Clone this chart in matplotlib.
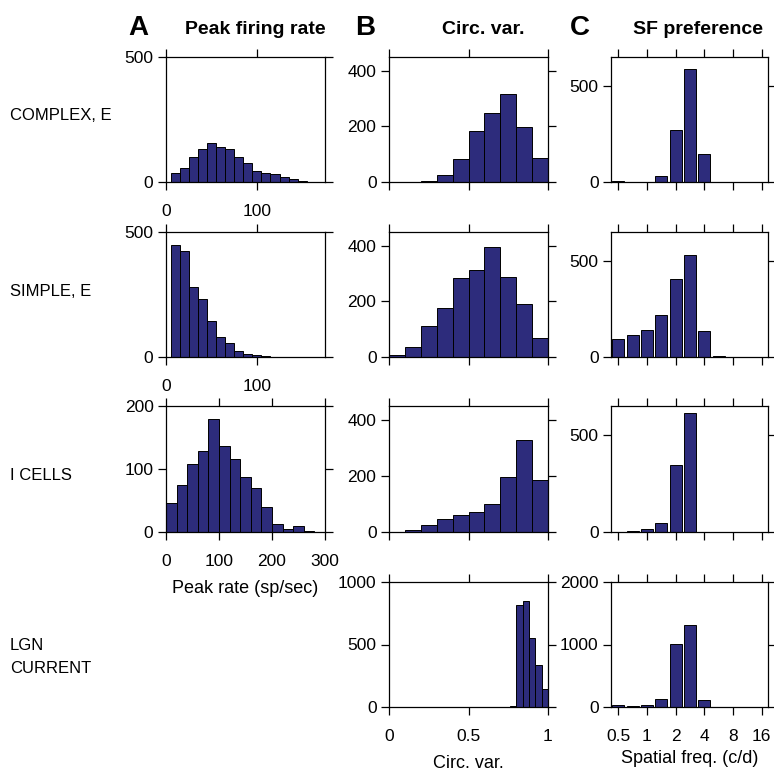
# -*- coding: UTF-8 -*-
import numpy as np
import matplotlib
matplotlib.use('Agg')
import matplotlib.pyplot as plt

plt.rcParams['font.family'] = ['Liberation Sans', 'DejaVu Sans']

# ---- data (counts) ----
# A: peak firing rate
rate_edges_ce = [5, 15, 25, 35, 45, 55, 65, 75, 85, 95, 105, 115, 125, 135, 145, 155, 165]
rate_ce = [37, 56, 100, 131, 155, 141, 134, 100, 78, 44, 37, 32, 20, 11, 4, 2]
rate_edges_se = [5, 15, 25, 35, 45, 55, 65, 75, 85, 95, 105, 115]
rate_se = [449, 425, 280, 231, 144, 80, 56, 23, 11, 6, 2]
rate_edges_i = [0, 20, 40, 60, 80, 100, 120, 140, 160, 180, 200, 220, 240, 260, 280]
rate_i = [46, 75, 108, 129, 180, 137, 116, 88, 70, 39, 13, 5, 9, 1]

# B: circular variance
cv_edges = [0, 0.1, 0.2, 0.3, 0.4, 0.5, 0.6, 0.7, 0.8, 0.9, 1.0]
cv_ce = [0, 1, 5, 25, 84, 185, 250, 318, 199, 85]
cv_se = [8, 35, 110, 178, 283, 312, 396, 289, 190, 68]
cv_i = [0, 6, 26, 47, 60, 73, 99, 196, 328, 185]
cv_edges_lgn = [0.76, 0.80, 0.84, 0.88, 0.92, 0.96, 1.0]
cv_lgn = [11, 813, 851, 552, 339, 141]

# C: spatial frequency preference (c/d)
sf_centers = [0.5, 0.71, 1, 1.41, 2, 2.83, 4, 5.66, 8, 11.3, 16]
sf_ce = [5, 2, 2, 30, 273, 587, 146, 0, 0, 2, 0]
sf_se = [92, 113, 139, 219, 406, 530, 134, 7, 0, 0, 0]
sf_i = [0, 5, 17, 48, 346, 616, 0, 0, 0, 0, 0]
sf_lgn = [32, 21, 32, 133, 1003, 1307, 112, 0, 0, 0, 0]
sf_ticks = [0.5, 1, 2, 4, 8, 16]

row_labels = ['COMPLEX, E', 'SIMPLE, E', 'I CELLS', 'LGN\nCURRENT']

bar_col = '#2d2c7c'
W = 774.0

fig = plt.figure(figsize=(7.74, 7.74), dpi=100)

cols_px = [(166, 325), (389, 548), (611, 768)]
rows_px = [(57, 182), (232, 357), (406, 532), (582, 707)]


def make_ax(r, c):
    x0, x1 = cols_px[c]
    y0, y1 = rows_px[r]
    ax = fig.add_axes([x0 / W, 1 - y1 / W, (x1 - x0) / W, (y1 - y0) / W])
    ax.tick_params(direction='out', top=True, right=True, length=5.5, width=0.9,
                   labelsize=12.5, pad=3.5, colors='black')
    ax.tick_params(axis='x', pad=10)
    for s in ax.spines.values():
        s.set_linewidth(0.9)
    return ax


def hist(ax, edges, counts):
    edges = np.array(edges, dtype=float)
    ax.bar(edges[:-1], counts, width=np.diff(edges), align='edge',
           color=bar_col, edgecolor='black', linewidth=0.7)


def sfbars(ax, counts):
    c = np.array(sf_centers)
    lo = c * 2 ** (-0.21)
    hi = c * 2 ** (0.21)
    ax.bar(lo, counts, width=hi - lo, align='edge',
           color=bar_col, edgecolor='black', linewidth=0.7)
    ax.set_xscale('log', base=2)
    ax.set_xlim(0.42, 18.6)
    ax.set_xticks(sf_ticks)
    ax.minorticks_off()
    ax.set_xticklabels(['0.5', '1', '2', '4', '8', '16'])


# column A
rate_data = [(rate_edges_ce, rate_ce, 175, 500, [0, 500], [0, 100]),
             (rate_edges_se, rate_se, 175, 500, [0, 500], [0, 100]),
             (rate_edges_i, rate_i, 300, 200, [0, 100, 200], [0, 100, 200, 300])]
for r, (e, cnt, xm, ym, yt, xt) in enumerate(rate_data):
    ax = make_ax(r, 0)
    hist(ax, e, cnt)
    ax.set_xlim(0, xm)
    ax.set_ylim(0, ym)
    ax.set_yticks(yt)
    ax.set_xticks(xt)
ax.set_xlabel('Peak rate (sp/sec)', fontsize=13, labelpad=8)

# column B
cv_data = [(cv_edges, cv_ce, 450, [0, 200, 400]),
           (cv_edges, cv_se, 450, [0, 200, 400]),
           (cv_edges, cv_i, 450, [0, 200, 400]),
           (cv_edges_lgn, cv_lgn, 1000, [0, 500, 1000])]
for r, (e, cnt, ym, yt) in enumerate(cv_data):
    ax = make_ax(r, 1)
    hist(ax, e, cnt)
    ax.set_xlim(0, 1)
    ax.set_ylim(0, ym)
    ax.set_yticks(yt)
    ax.set_xticks([0, 0.5, 1])
    if r < 3:
        ax.set_xticklabels([])
    else:
        ax.set_xticklabels(['0', '0.5', '1'])
        ax.set_xlabel('Circ. var.', fontsize=13, labelpad=8)

# column C
sf_data = [(sf_ce, 650, [0, 500]), (sf_se, 650, [0, 500]),
           (sf_i, 650, [0, 500]), (sf_lgn, 2000, [0, 1000, 2000])]
for r, (cnt, ym, yt) in enumerate(sf_data):
    ax = make_ax(r, 2)
    sfbars(ax, cnt)
    ax.set_ylim(0, ym)
    ax.set_yticks(yt)
    if r < 3:
        ax.set_xticklabels([])
    else:
        ax.set_xlabel('Spatial freq. (c/d)', fontsize=13, labelpad=5)

# row labels
row_y = [115, 291, 476, 657]
for lab, y in zip(row_labels, row_y):
    fig.text(10 / W, 1 - y / W, lab, fontsize=12, ha='left', va='center',
             linespacing=1.6)

# column headers
hdr = dict(fontsize=14, fontweight='bold', va='center', ha='center')
big = dict(fontsize=20, fontweight='bold', va='center', ha='center')
fig.text(138 / W, 1 - 28 / W, 'A', **big)
fig.text(255 / W, 1 - 29 / W, 'Peak firing rate', **hdr)
fig.text(365 / W, 1 - 28 / W, 'B', **big)
fig.text(483 / W, 1 - 29 / W, 'Circ. var.', **hdr)
fig.text(580 / W, 1 - 28 / W, 'C', **big)
fig.text(698 / W, 1 - 29 / W, 'SF preference', **hdr)

plt.savefig('out.png', dpi=100)
plt.close()
